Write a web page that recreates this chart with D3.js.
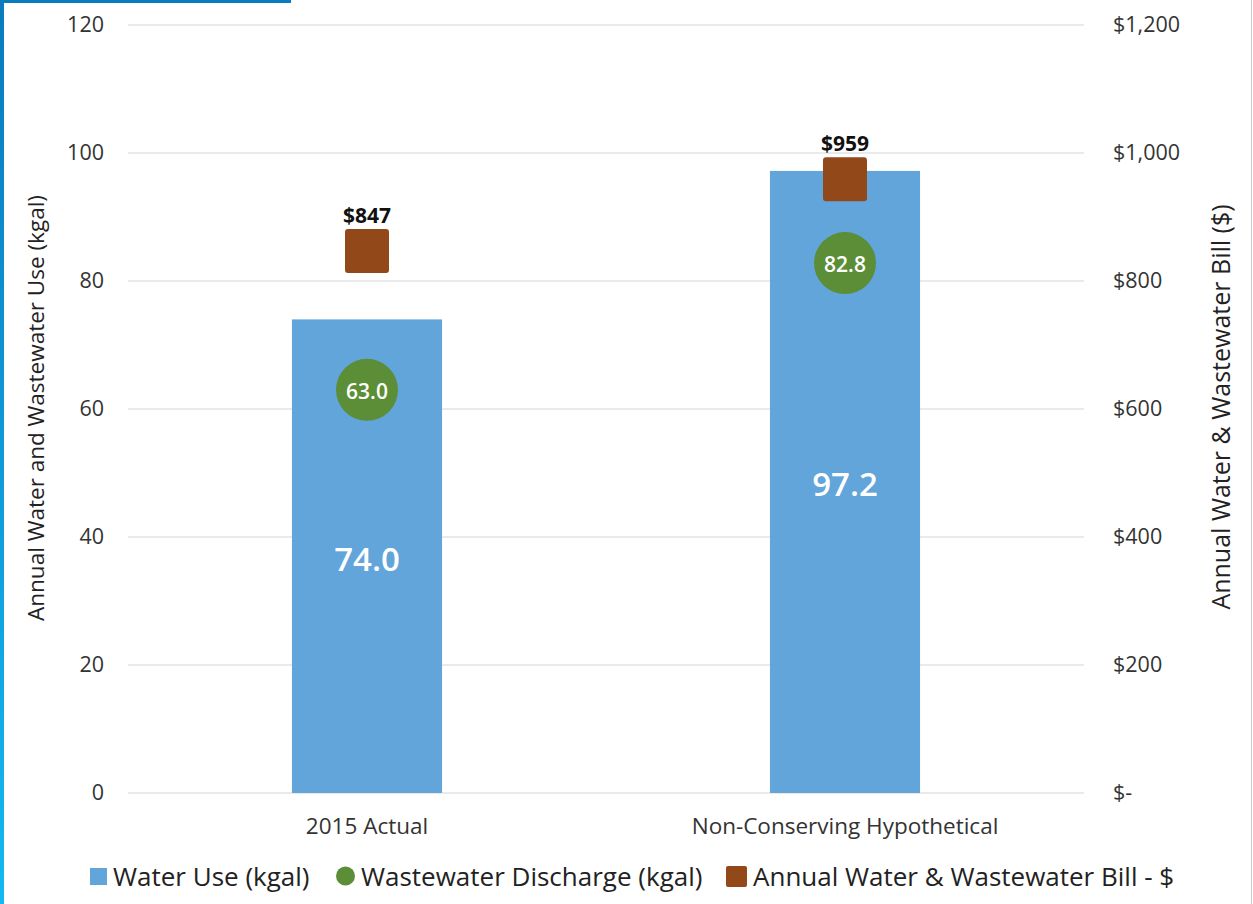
<!DOCTYPE html>
<html><head><meta charset="utf-8">
<script src="https://cdn.jsdelivr.net/npm/d3@7"></script>
<style>body{margin:0;background:#fff}svg{display:block}</style>
</head><body>
<script>
const categories = ["2015 Actual", "Non-Conserving Hypothetical"];
const waterUse = [74.0, 97.2];
const wastewater = [63.0, 82.8];
const bill = [847, 959];
const leftTicks = [0, 20, 40, 60, 80, 100, 120];
const rightTicks = [0, 200, 400, 600, 800, 1000, 1200];
const legendLabels = ["Water Use (kgal)", "Wastewater Discharge (kgal)", "Annual Water & Wastewater Bill - $"];

const W = 1253, H = 904;
const font = "'Open Sans', sans-serif";
const C = {blue: "#62a5db", green: "#5b8e36", brown: "#934819", text: "#333", grid: "#e3e3e3"};
const svg = d3.select("body").append("svg").attr("width", W).attr("height", H);

// frame decorations
const grad = svg.append("defs").append("linearGradient").attr("id","lg").attr("x1",0).attr("y1",0).attr("x2",0).attr("y2",1);
grad.append("stop").attr("offset","0%").attr("stop-color","#0a7bbd");
grad.append("stop").attr("offset","100%").attr("stop-color","#14b8f0");
svg.append("rect").attr("x",0).attr("y",0).attr("width",4).attr("height",H).attr("fill","url(#lg)");
svg.append("rect").attr("x",0).attr("y",0).attr("width",291).attr("height",3).attr("fill","#0a7bbd");
svg.append("rect").attr("x",1251).attr("y",0).attr("width",1).attr("height",H).attr("fill","#ccc");

const m = {left: 128, right: 1084, top: 25, bottom: 793};
const x = d3.scaleBand().domain(categories).range([m.left, m.right]).paddingInner(0.686).paddingOuter(0.343);
const y = d3.scaleLinear().domain([0, 120]).range([m.bottom, m.top]);
const y2 = d3.scaleLinear().domain([0, 1200]).range([m.bottom, m.top]);

// gridlines
svg.append("g").selectAll("line").data(leftTicks).join("line")
  .attr("x1", m.left).attr("x2", m.right)
  .attr("y1", d => y(d)).attr("y2", d => y(d))
  .attr("stroke", C.grid).attr("stroke-width", 1.5);

// left axis labels
const la = svg.append("g").attr("transform", `translate(${m.left - 24},0)`)
  .call(d3.axisLeft(y).tickValues(leftTicks).tickSize(0).tickPadding(0).tickFormat(d3.format("d")));
la.select(".domain").remove();
la.selectAll("text").attr("font-family", font).attr("font-size", 21.5).attr("fill", C.text);

// right axis labels
const ra = svg.append("g").attr("transform", `translate(${m.right + 29},0)`)
  .call(d3.axisRight(y2).tickValues(rightTicks).tickSize(0).tickPadding(0)
    .tickFormat(d => d === 0 ? "$-" : "$" + d3.format(",")(d)));
ra.select(".domain").remove();
ra.selectAll("text").attr("font-family", font).attr("font-size", 21.5).attr("fill", C.text);

// x axis labels
const xa = svg.append("g").attr("transform", `translate(0,${m.bottom})`)
  .call(d3.axisBottom(x).tickSize(0).tickPadding(0));
xa.select(".domain").remove();
xa.selectAll("text").attr("font-family", font).attr("font-size", 22.5).attr("fill", C.text)
  .attr("dy", null).attr("y", 41);

// bars
svg.append("g").selectAll("rect").data(categories).join("rect")
  .attr("x", d => x(d)).attr("width", x.bandwidth())
  .attr("y", (d,i) => y(waterUse[i])).attr("height", (d,i) => y(0) - y(waterUse[i]))
  .attr("fill", C.blue);
svg.append("g").selectAll("text").data(categories).join("text")
  .attr("x", d => x(d) + x.bandwidth()/2)
  .attr("y", (d,i) => (y(waterUse[i]) + y(0))/2 + 2)
  .attr("text-anchor","middle").attr("dominant-baseline","central")
  .attr("font-family", font).attr("font-weight", 600).attr("font-size", 33).attr("fill", "#fff")
  .text((d,i) => d3.format(".1f")(waterUse[i]));

// circles
svg.append("g").selectAll("circle").data(categories).join("circle")
  .attr("cx", d => x(d) + x.bandwidth()/2).attr("cy", (d,i) => y(wastewater[i]))
  .attr("r", 31).attr("fill", C.green);
svg.append("g").selectAll("text").data(categories).join("text")
  .attr("x", d => x(d) + x.bandwidth()/2).attr("y", (d,i) => y(wastewater[i]) + 1)
  .attr("text-anchor","middle").attr("dominant-baseline","central")
  .attr("font-family", font).attr("font-weight", 600).attr("font-size", 21).attr("fill", "#fff")
  .text((d,i) => d3.format(".1f")(wastewater[i]));

// squares
const s = 44;
svg.append("g").selectAll("rect").data(categories).join("rect")
  .attr("x", d => x(d) + x.bandwidth()/2 - s/2).attr("y", (d,i) => y2(bill[i]) - s/2)
  .attr("width", s).attr("height", s).attr("rx", 3).attr("fill", C.brown);
svg.append("g").selectAll("text").data(categories).join("text")
  .attr("x", d => x(d) + x.bandwidth()/2).attr("y", (d,i) => y2(bill[i]) - s/2 - 14)
  .attr("text-anchor","middle").attr("dominant-baseline","central")
  .attr("font-family", font).attr("font-weight", 700).attr("font-size", 21).attr("fill", "#111")
  .text((d,i) => "$" + bill[i]);

// axis titles
svg.append("text").attr("transform", `translate(35,408) rotate(-90)`)
  .attr("text-anchor","middle").attr("dominant-baseline","central")
  .attr("font-family", font).attr("font-size", 22.5).attr("fill", "#222")
  .text("Annual Water and Wastewater Use (kgal)");
svg.append("text").attr("transform", `translate(1220,407) rotate(-90)`)
  .attr("text-anchor","middle").attr("dominant-baseline","central")
  .attr("font-family", font).attr("font-size", 25).attr("fill", "#222")
  .text("Annual Water & Wastewater Bill ($)");

// legend
const ly = 876;
const lg = svg.append("g");
lg.append("rect").attr("x",90).attr("y",ly-8).attr("width",17).attr("height",17).attr("fill",C.blue);
lg.append("circle").attr("cx",345.5).attr("cy",ly).attr("r",9.5).attr("fill",C.green);
lg.append("rect").attr("x",726).attr("y",ly-10).attr("width",21).attr("height",21).attr("rx",2).attr("fill",C.brown);
const lx = [113, 361, 753];
lg.selectAll("text").data(legendLabels).join("text")
  .attr("x", (d,i) => lx[i]).attr("y", ly).attr("dominant-baseline","central")
  .attr("font-family", font).attr("font-size", 26).attr("fill", "#222")
  .text(d => d);
</script>
</body></html>
